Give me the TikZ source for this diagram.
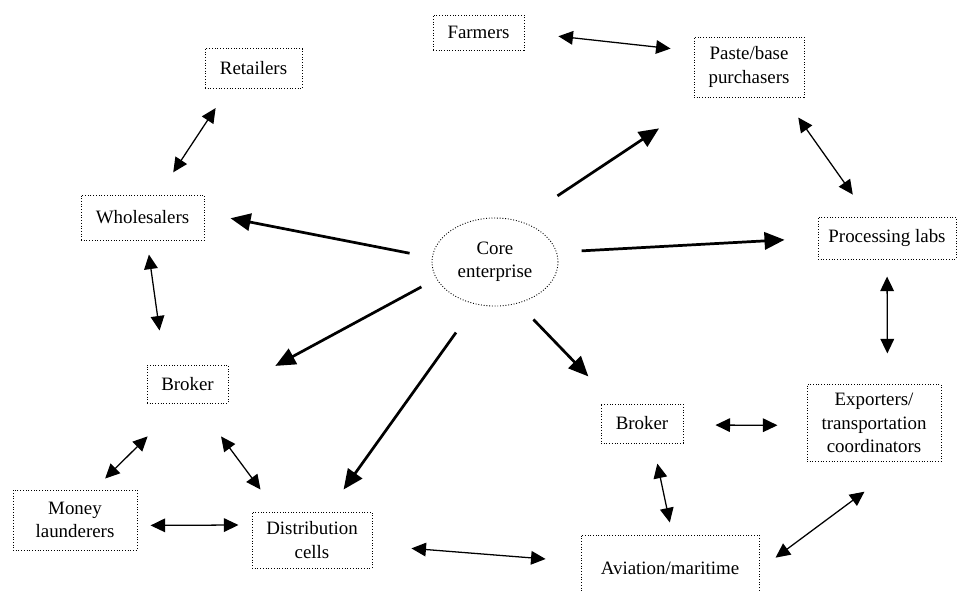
\documentclass[tikz,border=0pt]{standalone}
\usepackage{fontspec}
\setmainfont{Liberation Serif}
\usetikzlibrary{shapes.geometric,arrows.meta}

\tikzset{
  actor/.style={draw, densely dotted, line width=0.5pt, align=center, inner sep=2pt,
    font=\fontsize{10.4}{12.8}\selectfont},
  tie/.style={{Triangle[length=8pt,width=7.5pt]}-{Triangle[length=8pt,width=7.5pt]}, line width=0.7pt},
  flow/.style={-{Triangle[length=11pt,width=9.5pt]}, line width=1.5pt},
}

\begin{document}
\begin{tikzpicture}[x=0.55pt, y=-0.55pt]
	\useasboundingbox (0,0) rectangle (958,592);
	% actors
	\node[actor, ellipse, minimum width=69.3pt, minimum height=48.4pt] (core) at (495,262) {Core\\enterprise};
	\node[actor, minimum width=50pt, minimum height=19.3pt] (farmers) at (478.5,32.5) {Farmers};
	\node[actor, minimum width=60.5pt, minimum height=33pt] (paste) at (749,67) {Paste/base\\purchasers};
	\node[actor, minimum width=53.4pt, minimum height=22pt] (retailers) at (253.5,68.5) {Retailers};
	\node[actor, minimum width=67.7pt, minimum height=24.8pt] (wholesalers) at (142.5,217.5) {Wholesalers};
	\node[actor, minimum width=75.9pt, minimum height=23.1pt] (processing) at (887,238) {Processing labs};
	\node[actor, minimum width=44.6pt, minimum height=20.9pt] (brokerL) at (187.5,384) {Broker};
	\node[actor, minimum width=68.2pt, minimum height=33pt] (money) at (75,520) {Money\\launderers};
	\node[actor, minimum width=66pt, minimum height=30.8pt] (distrib) at (312,540) {Distribution\\cells};
	\node[actor, minimum width=45.1pt, minimum height=21.5pt] (brokerR) at (642,423.5) {Broker};
	\node[actor, minimum width=73.7pt, minimum height=42.4pt] (exporters) at (874,423) {Exporters/\\transportation\\coordinators};
	\node[actor, minimum width=97.9pt, minimum height=36.3pt] (aviation) at (670,568) {Aviation/maritime};

	% two-way ties
	\draw[tie, shorten <=18.8pt, shorten >=12.7pt] (farmers.east) -- (paste.164);
	\draw[tie, shorten <=12.6pt, shorten >=14.6pt] (retailers.219) -- (wholesalers.55);
	\draw[tie, shorten <=7.8pt, shorten >=18.9pt] (wholesalers.-79) -- (brokerL.140);
	\draw[tie, shorten <=25.7pt, shorten >=8.6pt] (brokerL.-109) -- (money.58);
	\draw[tie, shorten <=22.6pt, shorten >=15.1pt] (brokerL.-65) -- (distrib.141);
	\draw[tie, shorten <=7.2pt, shorten >=7.2pt] (money.-5) -- (distrib.166);
	\draw[tie, shorten <=21.5pt, shorten >=19.3pt] (distrib.-5) -- (aviation.176);
	\draw[tie, shorten <=13.5pt, shorten >=14.8pt] (paste.-41) -- (processing.131);
	\draw[tie, shorten <=9.4pt, shorten >=16.8pt] (processing.south) -- (exporters.71);
	\draw[tie, shorten <=17.6pt, shorten >=16pt] (brokerR.-2) -- (exporters.182);
	\draw[tie, shorten <=11.3pt, shorten >=6.8pt] (brokerR.-61) -- (aviation.86);
	\draw[tie, shorten <=11pt, shorten >=27.4pt] (aviation.-1) -- (exporters.-52);

	% flows out of the core
	\draw[flow, shorten <=25pt, shorten >=30.7pt] (core.59) -- (paste.215);
	\draw[flow, shorten <=12.5pt, shorten >=14.6pt] (core.176) -- (wholesalers.4);
	\draw[flow, shorten <=13.6pt, shorten >=18.2pt] (core.9) -- (processing.west);
	\draw[flow, shorten <=9.3pt, shorten >=29.3pt] (core.196) -- (brokerL.-10);
	\draw[flow, shorten <=19pt, shorten >=14.9pt] (core.246) -- (distrib.61);
	\draw[flow, shorten <=12.2pt, shorten >=20.7pt] (core.-61) -- (brokerR.144);
\end{tikzpicture}
\end{document}
